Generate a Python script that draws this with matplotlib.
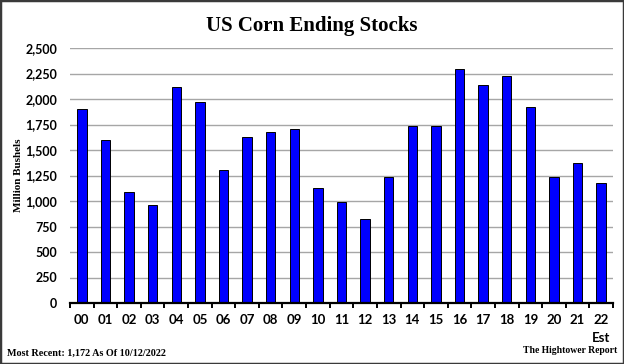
import matplotlib
matplotlib.use("Agg")
import matplotlib.pyplot as plt
from matplotlib.patches import Rectangle
from matplotlib.ticker import FixedLocator, FuncFormatter

years = ["00", "01", "02", "03", "04", "05", "06", "07", "08", "09", "10", "11",
         "12", "13", "14", "15", "16", "17", "18", "19", "20", "21", "22\nEst"]
stocks = [1899, 1596, 1087, 958, 2114, 1967, 1304, 1624, 1673, 1708, 1128, 989,
          821, 1232, 1731, 1737, 2293, 2140, 2221, 1919, 1235, 1377, 1172]
yticks = [0, 250, 500, 750, 1000, 1250, 1500, 1750, 2000, 2250, 2500]

title = "US Corn Ending Stocks"
ylabel = "Million Bushels"
note_left = "Most Recent: 1,172 As Of 10/12/2022"
note_right = "The Hightower Report"

sans = ["Lato", "DejaVu Sans"]
serif = ["Liberation Serif", "DejaVu Serif"]

fig = plt.figure(figsize=(6.24, 3.64), dpi=100)
fig.patch.set_facecolor("white")
ax = fig.add_axes([70 / 624, 1 - 303 / 364, 543 / 624, 255 / 364])

x = list(range(len(years)))
ax.bar(x, stocks, width=0.4, color="#0000ff", edgecolor="black", linewidth=0.7, zorder=3)

ax.set_xlim(-0.5, len(years) - 0.5)
ax.set_ylim(0, 2500)
ax.set_yticks(yticks)
ax.yaxis.set_major_formatter(FuncFormatter(lambda v, p: f"{int(v):,}"))
ax.grid(axis="y", color="#a6a6a6", linewidth=1.0, zorder=0)

for s in ["top", "right", "left"]:
    ax.spines[s].set_visible(False)
ax.spines["bottom"].set_linewidth(1.6)
ax.spines["bottom"].set_zorder(4)

ax.set_xticks(x)
ax.set_xticklabels(years)
ax.xaxis.set_minor_locator(FixedLocator([i - 0.5 for i in range(len(years) + 1)]))
ax.tick_params(axis="x", which="major", length=0, pad=8)
ax.tick_params(axis="x", which="minor", length=3.5, width=1.4, color="black", direction="out")
ax.tick_params(axis="y", length=0, pad=9)

for lab in ax.get_xticklabels():
    lab.set_fontfamily(sans)
    lab.set_fontweight("bold")
    lab.set_fontsize(9.5)
    lab.set_linespacing(1.55)
for lab in ax.get_yticklabels():
    lab.set_fontfamily(sans)
    lab.set_fontweight("bold")
    lab.set_fontsize(9)

ax.set_ylabel(ylabel, fontfamily=serif, fontweight="bold", fontsize=8)
ax.yaxis.set_label_coords(-0.087, 0.5)

fig.text(0.5, 1 - 31 / 364, title, ha="center", va="baseline",
         fontfamily=serif, fontweight="bold", fontsize=15)
fig.text(7 / 624, 1 - 356 / 364, note_left, ha="left", va="baseline",
         fontfamily=serif, fontweight="bold", fontsize=7.3)
fig.text(617 / 624, 1 - 353 / 364, note_right, ha="right", va="baseline",
         fontfamily=serif, fontweight="bold", fontsize=6.9)

fig.add_artist(Rectangle((0, 0), 1, 1, transform=fig.transFigure, fill=False,
                         edgecolor="#3a3a3a", linewidth=2.5))

fig.savefig("out.png", dpi=100)
